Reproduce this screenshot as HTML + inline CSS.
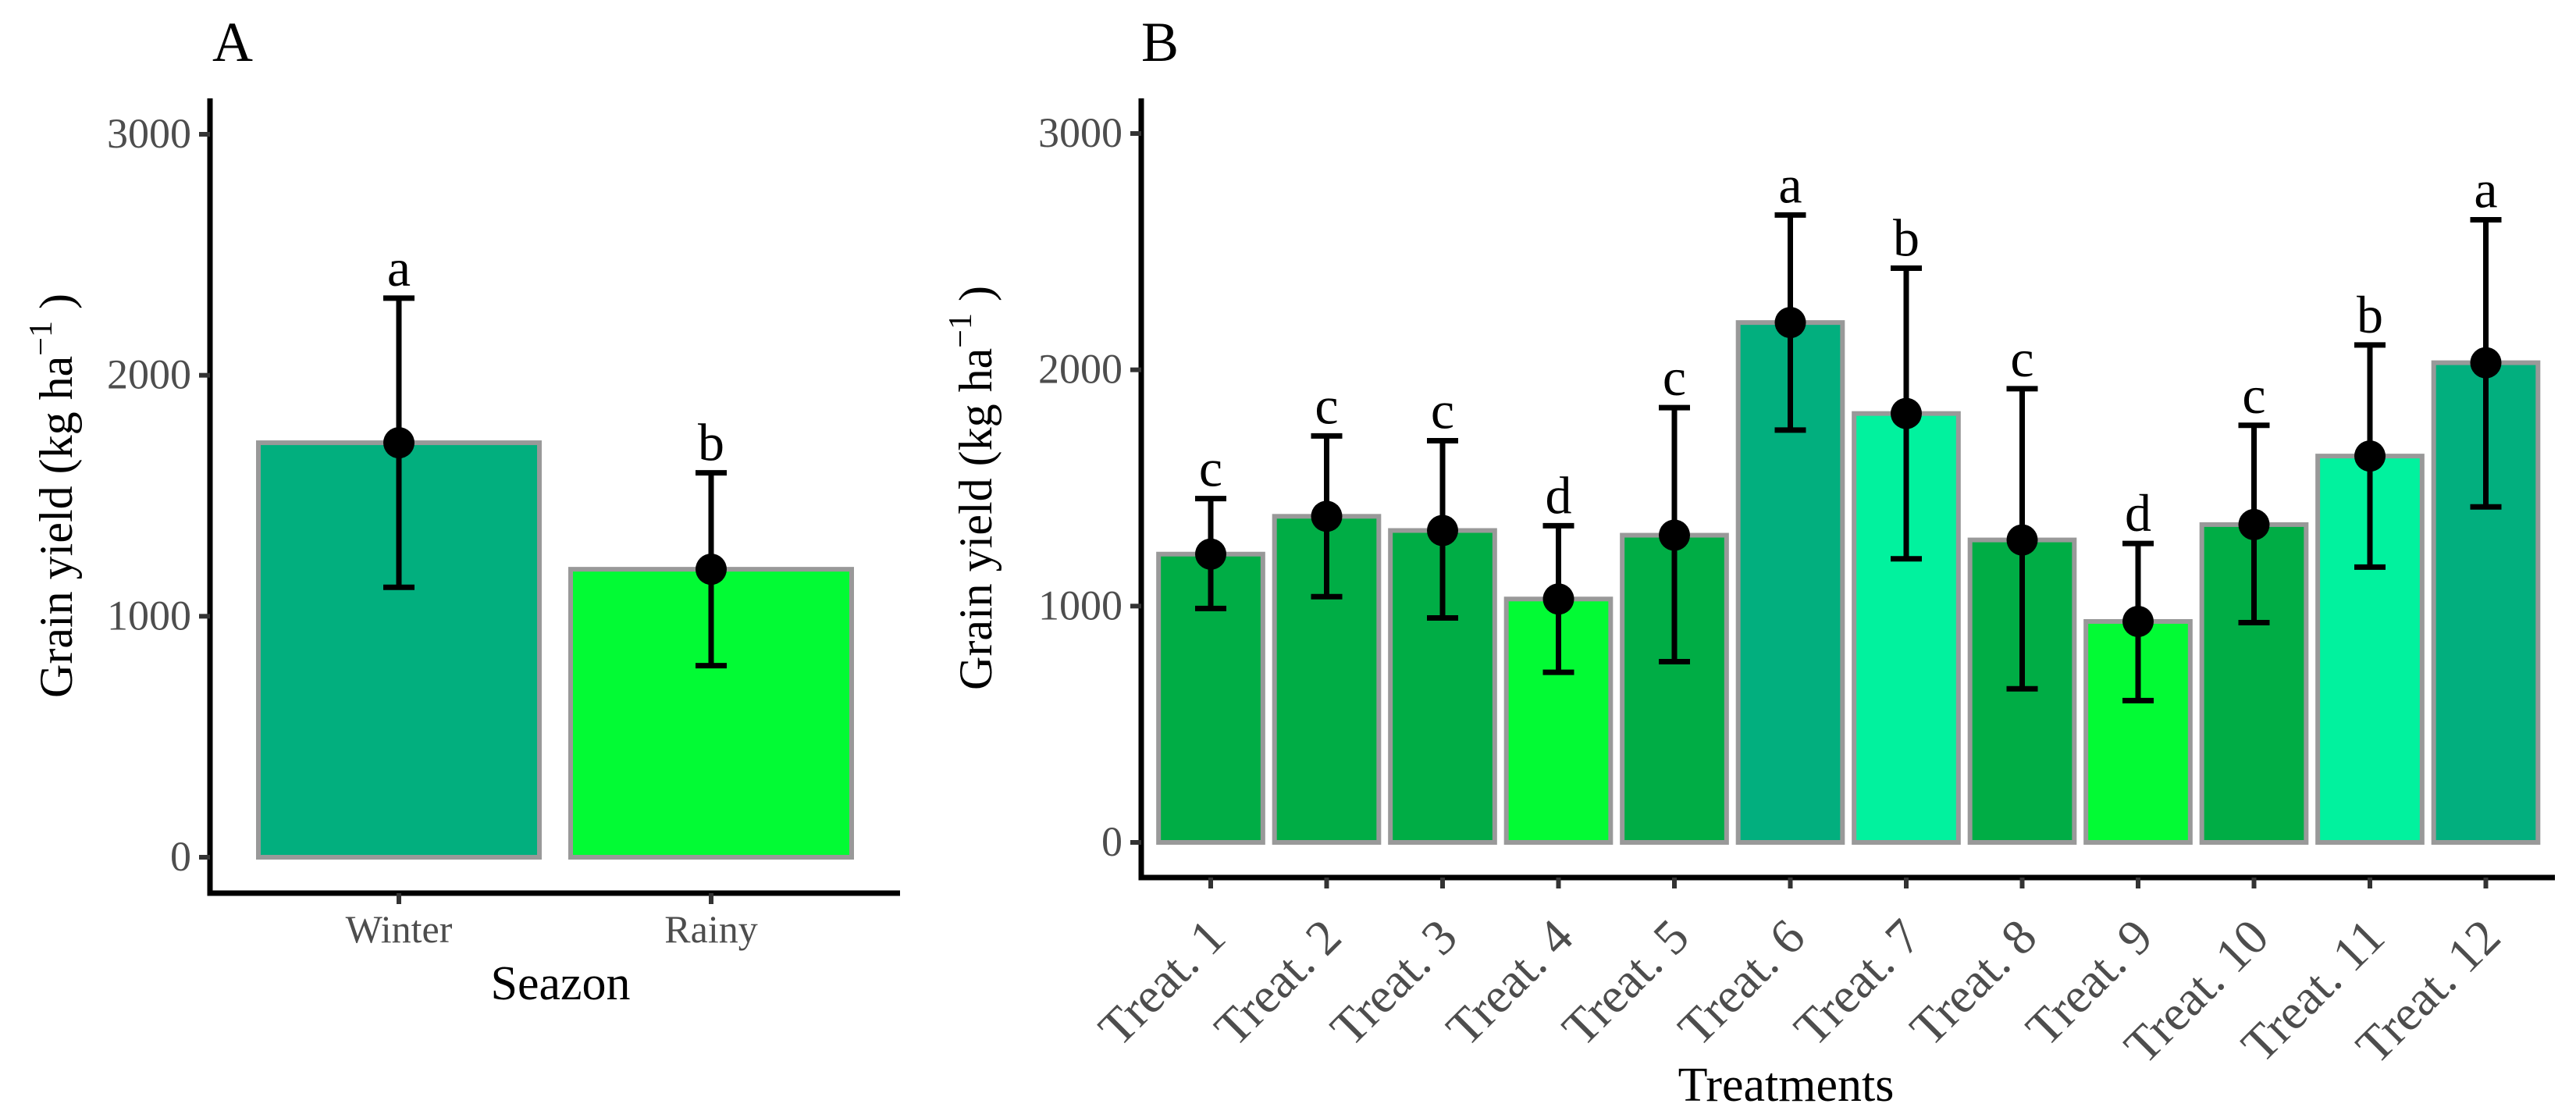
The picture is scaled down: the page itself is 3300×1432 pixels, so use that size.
<!DOCTYPE html>
<html><head><meta charset="utf-8">
<style>
html,body{margin:0;padding:0;background:#fff;}
svg{display:block;font-family:"Liberation Serif",serif;}
</style></head>
<body>
<svg id="chart" width="3300" height="1432" viewBox="0 0 3300 1432" xmlns="http://www.w3.org/2000/svg">
<rect x="0" y="0" width="3300" height="1432" fill="#fff"/>
</svg>
<script>
// Panel A data
const seasonCats = ["Winter", "Rainy"];
const seasonMeans = [1720, 1195];
const seasonLow = [1120, 795];
const seasonHigh = [2320, 1595];
const seasonLetters = ["a", "b"];
const seasonColors = ["#02AF7E", "#02FB34"];
// Panel B data
const treatCats = ["Treat. 1","Treat. 2","Treat. 3","Treat. 4","Treat. 5","Treat. 6","Treat. 7","Treat. 8","Treat. 9","Treat. 10","Treat. 11","Treat. 12"];
const treatMeans = [1220, 1380, 1320, 1030, 1300, 2200, 1815, 1280, 935, 1345, 1635, 2030];
const treatLow = [990, 1040, 950, 720, 765, 1745, 1200, 650, 600, 930, 1165, 1420];
const treatHigh = [1455, 1720, 1700, 1340, 1840, 2655, 2430, 1920, 1265, 1765, 2105, 2635];
const treatLetters = ["c","c","c","d","c","a","b","c","d","c","b","a"];
const treatColors = ["#00AD45","#00AD45","#00AD45","#02FB34","#00AD45","#02AF7E","#01F29E","#00AD45","#02FB34","#00AD45","#01F29E","#02AF7E"];
const yTicks = [0, 1000, 2000, 3000];

const NS = "http://www.w3.org/2000/svg";
const svg = document.getElementById("chart");
function mk(tag, attrs, parent) {
  const e = document.createElementNS(NS, tag);
  for (const k in attrs) e.setAttribute(k, attrs[k]);
  (parent || svg).appendChild(e);
  return e;
}

function panel(cfg) {
  const g = mk("g", {});
  
  
  const y = v => cfg.y0 - v * (cfg.y0 - cfg.y3000) / 3000;
  const x = i => cfg.xFirst + i * cfg.step;
  const bw = cfg.step * 0.9;
  cfg.cats.forEach((c, i) => {
    const r = mk("rect", {x: x(i) - bw / 2, y: y(cfg.means[i]), width: bw, height: y(0) - y(cfg.means[i]), fill: cfg.colors[i], stroke: "#999", "stroke-width": 6}, g);
    
    
  });
  cfg.cats.forEach((c, i) => {
    const eg = mk("g", {stroke: "#000", "stroke-width": 7}, g);
    
    
    mk("line", {x1: x(i), x2: x(i), y1: y(cfg.low[i]), y2: y(cfg.high[i])}, eg);
    mk("line", {x1: x(i) - 20, x2: x(i) + 20, y1: y(cfg.low[i]), y2: y(cfg.low[i])}, eg);
    mk("line", {x1: x(i) - 20, x2: x(i) + 20, y1: y(cfg.high[i]), y2: y(cfg.high[i])}, eg);
    const p = mk("circle", {cx: x(i), cy: y(cfg.means[i]), r: 20, fill: "#000"}, g);
    
    
    const t = mk("text", {x: x(i), y: y(cfg.high[i]) - 16, "text-anchor": "middle", "font-size": 68, fill: "#000"}, g);
    t.textContent = cfg.letters[i];
    
    
  });
  const ax = mk("path", {d: `M${cfg.axX} ${cfg.axTop} V${cfg.axY} H${cfg.axRight}`, fill: "none", stroke: "#000", "stroke-width": 7}, g);
  
  
  yTicks.forEach(v => {
    mk("line", {x1: cfg.axX - 14, x2: cfg.axX, y1: y(v), y2: y(v), stroke: "#333", "stroke-width": 6}, g);
    const t = mk("text", {x: cfg.axX - 24, y: y(v) + 17, "text-anchor": "end", "font-size": 54, fill: "#4d4d4d"}, g);
    t.textContent = v;
    
    
  });
  cfg.cats.forEach((c, i) => {
    mk("line", {x1: x(i), x2: x(i), y1: cfg.axY, y2: cfg.axY + 14, stroke: "#333", "stroke-width": 6}, g);
    let t;
    if (cfg.rotate) {
      const ax0 = x(i) + 22, ay0 = cfg.axY + 80;
      t = mk("text", {x: ax0, y: ay0, "text-anchor": "end", "font-size": 64, fill: "#4d4d4d", transform: `rotate(-45 ${ax0} ${ay0})`}, g);
    } else {
      t = mk("text", {x: x(i), y: cfg.axY + 63, "text-anchor": "middle", "font-size": 50, fill: "#4d4d4d"}, g);
    }
    t.textContent = c;
    
    
  });
  const xt = mk("text", {x: cfg.xTitleX, y: cfg.xTitleY, "text-anchor": "middle", "font-size": 62, fill: "#000"}, g);
  xt.textContent = cfg.xTitle;
  
  
  const yt = mk("text", {x: 0, y: 0, "text-anchor": "middle", "font-size": 60, fill: "#000", transform: `translate(${cfg.yTitleX} ${(cfg.axTop + cfg.axY) / 2}) rotate(-90)`}, g);
  
  
  const s1 = mk("tspan", {}, yt); s1.textContent = "Grain yield (kg ha";
  const s2 = mk("tspan", {dy: -26, "font-size": 42}, yt); s2.textContent = "\u22121";
  const s3 = mk("tspan", {dy: 26}, yt); s3.textContent = " )";
  const pl = mk("text", {x: cfg.labelX, y: 78, "font-size": 72, fill: "#000"}, g);
  pl.textContent = cfg.label;
  
  
}

panel({name: "panel-a", label: "A", labelX: 272, cats: seasonCats, means: seasonMeans, low: seasonLow, high: seasonHigh,
  letters: seasonLetters, colors: seasonColors, y0: 1098, y3000: 172, xFirst: 511, step: 400,
  axX: 269, axTop: 126, axY: 1144, axRight: 1153, rotate: false,
  xTitle: "Seazon", xTitleX: 718, xTitleY: 1280, yTitleX: 92});
panel({name: "panel-b", label: "B", labelX: 1462, cats: treatCats, means: treatMeans, low: treatLow, high: treatHigh,
  letters: treatLetters, colors: treatColors, y0: 1079, y3000: 171, xFirst: 1551, step: 148.5,
  axX: 1462, axTop: 126, axY: 1124, axRight: 3273, rotate: true,
  xTitle: "Treatments", xTitleX: 2288, xTitleY: 1410, yTitleX: 1270});
</script>
</body></html>
